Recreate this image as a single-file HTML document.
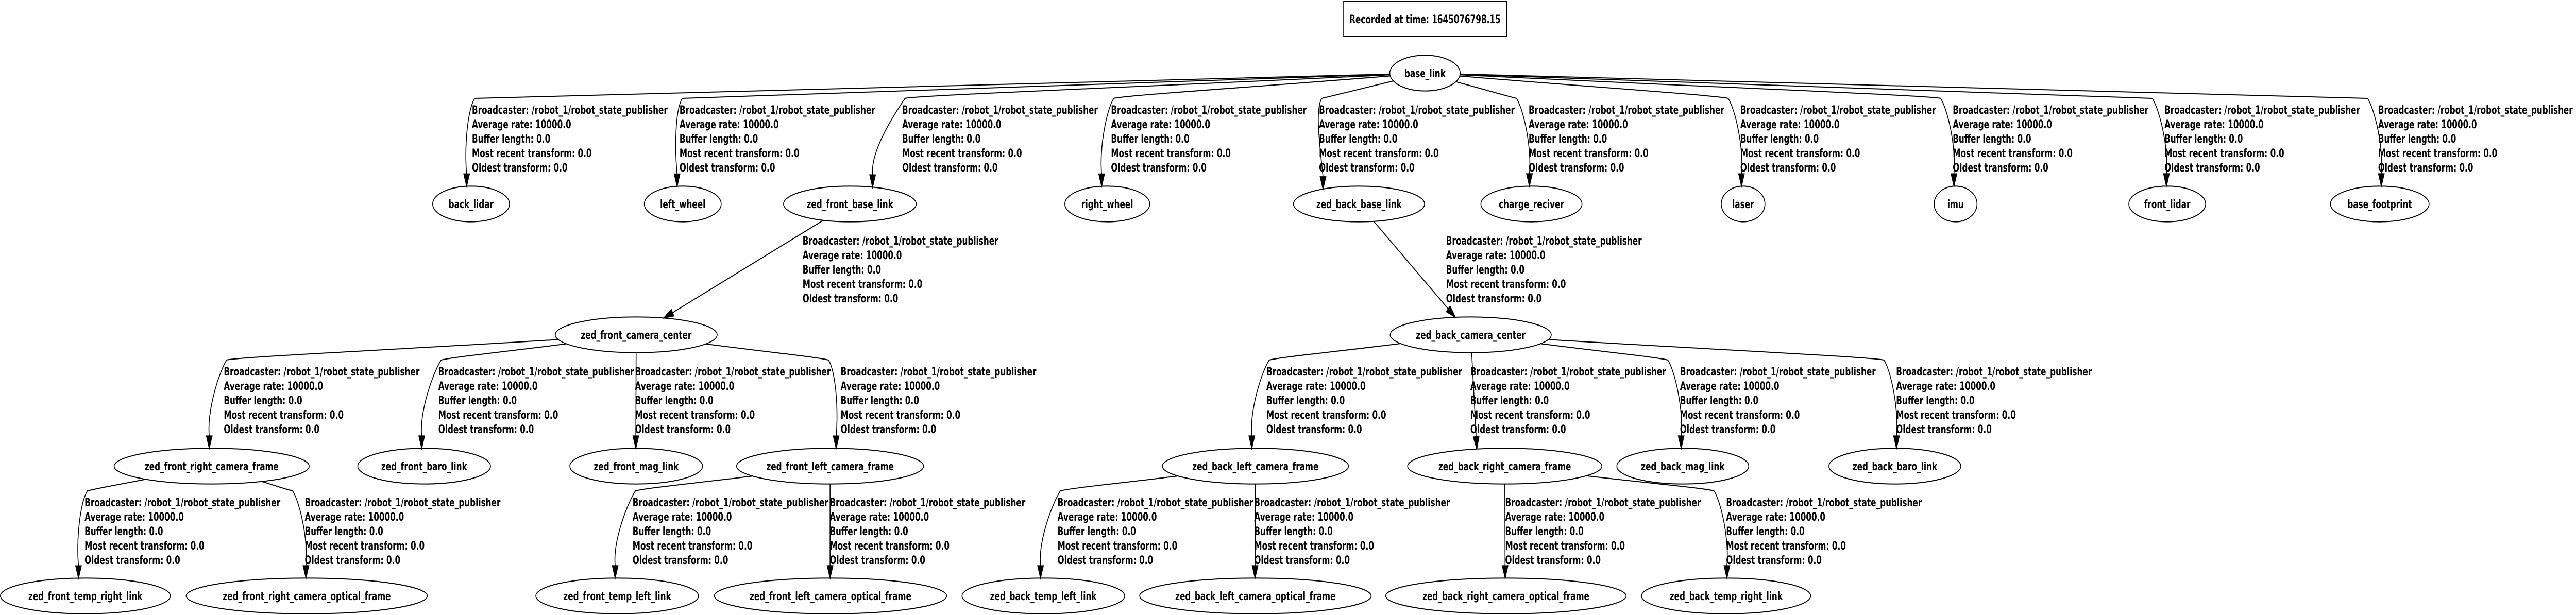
<!DOCTYPE html>
<html><head><meta charset="utf-8">
<style>
html,body{margin:0;padding:0;background:#fff;width:100%;height:100%;overflow:hidden;}
svg{display:block;width:100vw;height:100vh;}
text{font-family:"DejaVu Sans","Liberation Sans",sans-serif;font-weight:bold;font-size:22px;fill:#000;}
.n{text-anchor:middle;}
ellipse{fill:none;stroke:#000;stroke-width:2;}
</style></head>
<body>
<svg id="s" viewBox="0 0 6365 1194" preserveAspectRatio="none" overflow="hidden" xmlns="http://www.w3.org/2000/svg">
<rect x="0" y="0" width="6365" height="1194" fill="#fff"/>
<rect x="3320" y="2" width="403" height="69" fill="none" stroke="#000" stroke-width="2"/>
<text class="n" transform="translate(3521,45) scale(0.885,1)">Recorded at time: 1645076798.15</text>
<g id="edges" fill="none" stroke="#000" stroke-width="2"></g>
<g id="arrows" fill="#000" stroke="#000" stroke-width="2"></g>

<ellipse cx="3521" cy="142" rx="87" ry="34.6"/><text class="n" transform="translate(3521,150) scale(0.885,1)">base_link</text>
<ellipse cx="1164" cy="396" rx="95" ry="34.6"/><text class="n" transform="translate(1164,404) scale(0.885,1)">back_lidar</text>
<ellipse cx="1687" cy="396" rx="95" ry="34.6"/><text class="n" transform="translate(1687,404) scale(0.885,1)">left_wheel</text>
<ellipse cx="2100" cy="396" rx="164" ry="34.6"/><text class="n" transform="translate(2100,404) scale(0.885,1)">zed_front_base_link</text>
<ellipse cx="2736" cy="396" rx="105" ry="34.6"/><text class="n" transform="translate(2736,404) scale(0.885,1)">right_wheel</text>
<ellipse cx="3358" cy="396" rx="162" ry="34.6"/><text class="n" transform="translate(3358,404) scale(0.885,1)">zed_back_base_link</text>
<ellipse cx="3784" cy="396" rx="125" ry="34.6"/><text class="n" transform="translate(3784,404) scale(0.885,1)">charge_reciver</text>
<ellipse cx="4307" cy="396" rx="54" ry="34.6"/><text class="n" transform="translate(4307,404) scale(0.885,1)">laser</text>
<ellipse cx="4832" cy="396" rx="53" ry="34.6"/><text class="n" transform="translate(4832,404) scale(0.885,1)">imu</text>
<ellipse cx="5355" cy="396" rx="95" ry="34.6"/><text class="n" transform="translate(5355,404) scale(0.885,1)">front_lidar</text>
<ellipse cx="5880" cy="396" rx="122" ry="34.6"/><text class="n" transform="translate(5880,404) scale(0.885,1)">base_footprint</text>
<ellipse cx="1572" cy="650" rx="200" ry="34.6"/><text class="n" transform="translate(1572,658) scale(0.885,1)">zed_front_camera_center</text>
<ellipse cx="3634" cy="650" rx="199" ry="34.6"/><text class="n" transform="translate(3634,658) scale(0.885,1)">zed_back_camera_center</text>
<ellipse cx="523" cy="905" rx="241" ry="34.6"/><text class="n" transform="translate(523,913) scale(0.885,1)">zed_front_right_camera_frame</text>
<ellipse cx="1048" cy="905" rx="164" ry="34.6"/><text class="n" transform="translate(1048,913) scale(0.885,1)">zed_front_baro_link</text>
<ellipse cx="1572" cy="905" rx="164" ry="34.6"/><text class="n" transform="translate(1572,913) scale(0.885,1)">zed_front_mag_link</text>
<ellipse cx="2051" cy="905" rx="231" ry="34.6"/><text class="n" transform="translate(2051,913) scale(0.885,1)">zed_front_left_camera_frame</text>
<ellipse cx="3102" cy="905" rx="230" ry="34.6"/><text class="n" transform="translate(3102,913) scale(0.885,1)">zed_back_left_camera_frame</text>
<ellipse cx="3718" cy="905" rx="240" ry="34.6"/><text class="n" transform="translate(3718,913) scale(0.885,1)">zed_back_right_camera_frame</text>
<ellipse cx="4158" cy="905" rx="163" ry="34.6"/><text class="n" transform="translate(4158,913) scale(0.885,1)">zed_back_mag_link</text>
<ellipse cx="4682" cy="905" rx="163" ry="34.6"/><text class="n" transform="translate(4682,913) scale(0.885,1)">zed_back_baro_link</text>
<ellipse cx="211" cy="1157" rx="210" ry="34.6"/><text class="n" transform="translate(211,1165) scale(0.885,1)">zed_front_temp_right_link</text>
<ellipse cx="758" cy="1157" rx="298" ry="34.6"/><text class="n" transform="translate(758,1165) scale(0.885,1)">zed_front_right_camera_optical_frame</text>
<ellipse cx="1525" cy="1157" rx="201" ry="34.6"/><text class="n" transform="translate(1525,1165) scale(0.885,1)">zed_front_temp_left_link</text>
<ellipse cx="2052" cy="1157" rx="287" ry="34.6"/><text class="n" transform="translate(2052,1165) scale(0.885,1)">zed_front_left_camera_optical_frame</text>
<ellipse cx="2578" cy="1157" rx="201" ry="34.6"/><text class="n" transform="translate(2578,1165) scale(0.885,1)">zed_back_temp_left_link</text>
<ellipse cx="3102" cy="1157" rx="286" ry="34.6"/><text class="n" transform="translate(3102,1165) scale(0.885,1)">zed_back_left_camera_optical_frame</text>
<ellipse cx="3721" cy="1157" rx="297" ry="34.6"/><text class="n" transform="translate(3721,1165) scale(0.885,1)">zed_back_right_camera_optical_frame</text>
<ellipse cx="4265" cy="1157" rx="209" ry="34.6"/><text class="n" transform="translate(4265,1165) scale(0.885,1)">zed_back_temp_right_link</text>

<text transform="translate(1166,221) scale(0.885,1)"><tspan x="0" y="0">Broadcaster: /robot_1/robot_state_publisher</tspan><tspan x="0" y="28">Average rate: 10000.0</tspan><tspan x="0" y="56">Buffer length: 0.0</tspan><tspan x="0" y="84">Most recent transform: 0.0</tspan><tspan x="0" y="112">Oldest transform: 0.0</tspan></text>
<text transform="translate(1679,221) scale(0.885,1)"><tspan x="0" y="0">Broadcaster: /robot_1/robot_state_publisher</tspan><tspan x="0" y="28">Average rate: 10000.0</tspan><tspan x="0" y="56">Buffer length: 0.0</tspan><tspan x="0" y="84">Most recent transform: 0.0</tspan><tspan x="0" y="112">Oldest transform: 0.0</tspan></text>
<text transform="translate(2229,221) scale(0.885,1)"><tspan x="0" y="0">Broadcaster: /robot_1/robot_state_publisher</tspan><tspan x="0" y="28">Average rate: 10000.0</tspan><tspan x="0" y="56">Buffer length: 0.0</tspan><tspan x="0" y="84">Most recent transform: 0.0</tspan><tspan x="0" y="112">Oldest transform: 0.0</tspan></text>
<text transform="translate(2745,221) scale(0.885,1)"><tspan x="0" y="0">Broadcaster: /robot_1/robot_state_publisher</tspan><tspan x="0" y="28">Average rate: 10000.0</tspan><tspan x="0" y="56">Buffer length: 0.0</tspan><tspan x="0" y="84">Most recent transform: 0.0</tspan><tspan x="0" y="112">Oldest transform: 0.0</tspan></text>
<text transform="translate(3259,221) scale(0.885,1)"><tspan x="0" y="0">Broadcaster: /robot_1/robot_state_publisher</tspan><tspan x="0" y="28">Average rate: 10000.0</tspan><tspan x="0" y="56">Buffer length: 0.0</tspan><tspan x="0" y="84">Most recent transform: 0.0</tspan><tspan x="0" y="112">Oldest transform: 0.0</tspan></text>
<text transform="translate(3777,221) scale(0.885,1)"><tspan x="0" y="0">Broadcaster: /robot_1/robot_state_publisher</tspan><tspan x="0" y="28">Average rate: 10000.0</tspan><tspan x="0" y="56">Buffer length: 0.0</tspan><tspan x="0" y="84">Most recent transform: 0.0</tspan><tspan x="0" y="112">Oldest transform: 0.0</tspan></text>
<text transform="translate(4300,221) scale(0.885,1)"><tspan x="0" y="0">Broadcaster: /robot_1/robot_state_publisher</tspan><tspan x="0" y="28">Average rate: 10000.0</tspan><tspan x="0" y="56">Buffer length: 0.0</tspan><tspan x="0" y="84">Most recent transform: 0.0</tspan><tspan x="0" y="112">Oldest transform: 0.0</tspan></text>
<text transform="translate(4825,221) scale(0.885,1)"><tspan x="0" y="0">Broadcaster: /robot_1/robot_state_publisher</tspan><tspan x="0" y="28">Average rate: 10000.0</tspan><tspan x="0" y="56">Buffer length: 0.0</tspan><tspan x="0" y="84">Most recent transform: 0.0</tspan><tspan x="0" y="112">Oldest transform: 0.0</tspan></text>
<text transform="translate(5348,221) scale(0.885,1)"><tspan x="0" y="0">Broadcaster: /robot_1/robot_state_publisher</tspan><tspan x="0" y="28">Average rate: 10000.0</tspan><tspan x="0" y="56">Buffer length: 0.0</tspan><tspan x="0" y="84">Most recent transform: 0.0</tspan><tspan x="0" y="112">Oldest transform: 0.0</tspan></text>
<text transform="translate(5876,221) scale(0.88,1)"><tspan x="0" y="0">Broadcaster: /robot_1/robot_state_publisher</tspan><tspan x="0" y="28">Average rate: 10000.0</tspan><tspan x="0" y="56">Buffer length: 0.0</tspan><tspan x="0" y="84">Most recent transform: 0.0</tspan><tspan x="0" y="112">Oldest transform: 0.0</tspan></text>
<text transform="translate(1983,475) scale(0.885,1)"><tspan x="0" y="0">Broadcaster: /robot_1/robot_state_publisher</tspan><tspan x="0" y="28">Average rate: 10000.0</tspan><tspan x="0" y="56">Buffer length: 0.0</tspan><tspan x="0" y="84">Most recent transform: 0.0</tspan><tspan x="0" y="112">Oldest transform: 0.0</tspan></text>
<text transform="translate(3573,475) scale(0.885,1)"><tspan x="0" y="0">Broadcaster: /robot_1/robot_state_publisher</tspan><tspan x="0" y="28">Average rate: 10000.0</tspan><tspan x="0" y="56">Buffer length: 0.0</tspan><tspan x="0" y="84">Most recent transform: 0.0</tspan><tspan x="0" y="112">Oldest transform: 0.0</tspan></text>
<text transform="translate(553,729) scale(0.885,1)"><tspan x="0" y="0">Broadcaster: /robot_1/robot_state_publisher</tspan><tspan x="0" y="28">Average rate: 10000.0</tspan><tspan x="0" y="56">Buffer length: 0.0</tspan><tspan x="0" y="84">Most recent transform: 0.0</tspan><tspan x="0" y="112">Oldest transform: 0.0</tspan></text>
<text transform="translate(1083,729) scale(0.885,1)"><tspan x="0" y="0">Broadcaster: /robot_1/robot_state_publisher</tspan><tspan x="0" y="28">Average rate: 10000.0</tspan><tspan x="0" y="56">Buffer length: 0.0</tspan><tspan x="0" y="84">Most recent transform: 0.0</tspan><tspan x="0" y="112">Oldest transform: 0.0</tspan></text>
<text transform="translate(1569,729) scale(0.885,1)"><tspan x="0" y="0">Broadcaster: /robot_1/robot_state_publisher</tspan><tspan x="0" y="28">Average rate: 10000.0</tspan><tspan x="0" y="56">Buffer length: 0.0</tspan><tspan x="0" y="84">Most recent transform: 0.0</tspan><tspan x="0" y="112">Oldest transform: 0.0</tspan></text>
<text transform="translate(2077,729) scale(0.885,1)"><tspan x="0" y="0">Broadcaster: /robot_1/robot_state_publisher</tspan><tspan x="0" y="28">Average rate: 10000.0</tspan><tspan x="0" y="56">Buffer length: 0.0</tspan><tspan x="0" y="84">Most recent transform: 0.0</tspan><tspan x="0" y="112">Oldest transform: 0.0</tspan></text>
<text transform="translate(3129,729) scale(0.885,1)"><tspan x="0" y="0">Broadcaster: /robot_1/robot_state_publisher</tspan><tspan x="0" y="28">Average rate: 10000.0</tspan><tspan x="0" y="56">Buffer length: 0.0</tspan><tspan x="0" y="84">Most recent transform: 0.0</tspan><tspan x="0" y="112">Oldest transform: 0.0</tspan></text>
<text transform="translate(3633,729) scale(0.885,1)"><tspan x="0" y="0">Broadcaster: /robot_1/robot_state_publisher</tspan><tspan x="0" y="28">Average rate: 10000.0</tspan><tspan x="0" y="56">Buffer length: 0.0</tspan><tspan x="0" y="84">Most recent transform: 0.0</tspan><tspan x="0" y="112">Oldest transform: 0.0</tspan></text>
<text transform="translate(4151,729) scale(0.885,1)"><tspan x="0" y="0">Broadcaster: /robot_1/robot_state_publisher</tspan><tspan x="0" y="28">Average rate: 10000.0</tspan><tspan x="0" y="56">Buffer length: 0.0</tspan><tspan x="0" y="84">Most recent transform: 0.0</tspan><tspan x="0" y="112">Oldest transform: 0.0</tspan></text>
<text transform="translate(4685,729) scale(0.885,1)"><tspan x="0" y="0">Broadcaster: /robot_1/robot_state_publisher</tspan><tspan x="0" y="28">Average rate: 10000.0</tspan><tspan x="0" y="56">Buffer length: 0.0</tspan><tspan x="0" y="84">Most recent transform: 0.0</tspan><tspan x="0" y="112">Oldest transform: 0.0</tspan></text>
<text transform="translate(209,983) scale(0.885,1)"><tspan x="0" y="0">Broadcaster: /robot_1/robot_state_publisher</tspan><tspan x="0" y="28">Average rate: 10000.0</tspan><tspan x="0" y="56">Buffer length: 0.0</tspan><tspan x="0" y="84">Most recent transform: 0.0</tspan><tspan x="0" y="112">Oldest transform: 0.0</tspan></text>
<text transform="translate(753,983) scale(0.885,1)"><tspan x="0" y="0">Broadcaster: /robot_1/robot_state_publisher</tspan><tspan x="0" y="28">Average rate: 10000.0</tspan><tspan x="0" y="56">Buffer length: 0.0</tspan><tspan x="0" y="84">Most recent transform: 0.0</tspan><tspan x="0" y="112">Oldest transform: 0.0</tspan></text>
<text transform="translate(1563,983) scale(0.885,1)"><tspan x="0" y="0">Broadcaster: /robot_1/robot_state_publisher</tspan><tspan x="0" y="28">Average rate: 10000.0</tspan><tspan x="0" y="56">Buffer length: 0.0</tspan><tspan x="0" y="84">Most recent transform: 0.0</tspan><tspan x="0" y="112">Oldest transform: 0.0</tspan></text>
<text transform="translate(2050,983) scale(0.885,1)"><tspan x="0" y="0">Broadcaster: /robot_1/robot_state_publisher</tspan><tspan x="0" y="28">Average rate: 10000.0</tspan><tspan x="0" y="56">Buffer length: 0.0</tspan><tspan x="0" y="84">Most recent transform: 0.0</tspan><tspan x="0" y="112">Oldest transform: 0.0</tspan></text>
<text transform="translate(2613,983) scale(0.885,1)"><tspan x="0" y="0">Broadcaster: /robot_1/robot_state_publisher</tspan><tspan x="0" y="28">Average rate: 10000.0</tspan><tspan x="0" y="56">Buffer length: 0.0</tspan><tspan x="0" y="84">Most recent transform: 0.0</tspan><tspan x="0" y="112">Oldest transform: 0.0</tspan></text>
<text transform="translate(3099,983) scale(0.885,1)"><tspan x="0" y="0">Broadcaster: /robot_1/robot_state_publisher</tspan><tspan x="0" y="28">Average rate: 10000.0</tspan><tspan x="0" y="56">Buffer length: 0.0</tspan><tspan x="0" y="84">Most recent transform: 0.0</tspan><tspan x="0" y="112">Oldest transform: 0.0</tspan></text>
<text transform="translate(3719,983) scale(0.885,1)"><tspan x="0" y="0">Broadcaster: /robot_1/robot_state_publisher</tspan><tspan x="0" y="28">Average rate: 10000.0</tspan><tspan x="0" y="56">Buffer length: 0.0</tspan><tspan x="0" y="84">Most recent transform: 0.0</tspan><tspan x="0" y="112">Oldest transform: 0.0</tspan></text>
<text transform="translate(4265,983) scale(0.885,1)"><tspan x="0" y="0">Broadcaster: /robot_1/robot_state_publisher</tspan><tspan x="0" y="28">Average rate: 10000.0</tspan><tspan x="0" y="56">Buffer length: 0.0</tspan><tspan x="0" y="84">Most recent transform: 0.0</tspan><tspan x="0" y="112">Oldest transform: 0.0</tspan></text>
</svg>
<script>
(function(){
var RY=34.6;
var N={
base_link:[3521,142,87],back_lidar:[1164,396,95],left_wheel:[1687,396,95],zfb:[2100,396,164],right_wheel:[2736,396,105],
zbb:[3358,396,162],charge:[3784,396,125],laser:[4307,396,54],imu:[4832,396,53],front_lidar:[5355,396,95],footprint:[5880,396,122],
zfc:[1572,650,200],zbc:[3634,650,199],
zfrc:[523,905,241],zfbaro:[1048,905,164],zfmag:[1572,905,164],zflc:[2051,905,231],
zblc:[3102,905,230],zbrc:[3718,905,240],zbmag:[4158,905,163],zbbaro:[4682,905,163],
zftr:[211,1157,210],zfro:[758,1157,298],zftl:[1525,1157,201],zflo:[2052,1157,287],
zbtl:[2578,1157,201],zblo:[3102,1157,286],zbro:[3721,1157,297],zbtr:[4265,1157,209]};
var E=[
['base_link','back_lidar',1166,1153,221,0],['base_link','left_wheel',1679,1673,221,0],['base_link','zfb',2229,2156,221,0],
['base_link','right_wheel',2745,2722,221,0],['base_link','zbb',3259,3269,221,0],['base_link','charge',3777,3779,221,0],
['base_link','laser',4300,4303,221,0],['base_link','imu',4825,4828,221,0],['base_link','front_lidar',5348,5353,221,0],
['base_link','footprint',5880,5884,221,0],
['zfb','zfc',1983,1640,475,1],['zbb','zbc',3573,3596,475,1],
['zfc','zfrc',553,517,729,0],['zfc','zfbaro',1083,1042,729,0],['zfc','zfmag',1569,1571,729,1],['zfc','zflc',2077,2066,729,0],
['zbc','zblc',3129,3093,729,0],['zbc','zbrc',3633,3649,729,1],['zbc','zbmag',4151,4154,729,0],['zbc','zbbaro',4685,4686,729,0],
['zfrc','zftr',209,194,983,0],['zfrc','zfro',753,756,983,0],['zflc','zftl',1563,1520,983,0],['zflc','zflo',2050,2051,983,1],
['zblc','zbtl',2613,2571,983,0],['zblc','zblo',3099,3101,983,1],['zbrc','zbro',3719,3719,983,1],['zbrc','zbtr',4265,4267,983,0]];
function top(n,x){var c=N[n];var d=(x-c[0])/c[2];d=Math.max(-0.99,Math.min(0.99,d));return c[1]-RY*Math.sqrt(1-d*d);}
function bnd(n,px,py){var c=N[n];var a=Math.atan2((py-c[1])/RY,(px-c[0])/c[2]);return [c[0]+c[2]*Math.cos(a),c[1]+RY*Math.sin(a)];}
var ns='http://www.w3.org/2000/svg';
var eg=document.getElementById('edges'),ag=document.getElementById('arrows');
function f(v){return v.toFixed(1);}
E.forEach(function(e){
  var p=e[0],c=e[1],Lx=e[2],Tx=e[3],Ly=e[4],st=e[5];
  var T=[Tx,top(c,Tx)];var d,u;
  if(st){
    var S=bnd(p,T[0],T[1]);
    var dx=T[0]-S[0],dy=T[1]-S[1],l=Math.sqrt(dx*dx+dy*dy);u=[dx/l,dy/l];
    var En=[T[0]-24*u[0],T[1]-24*u[1]];
    d='M'+f(S[0])+','+f(S[1])+' L'+f(En[0])+','+f(En[1]);
  } else {
    var pc=N[p];
    var dir=(Tx<pc[0])?-1:1;
    var Kx=dir<0?Lx+7:Lx-30, Ky=Ly-30;
    var S=bnd(p,Kx,Ky);
    var En=[T[0],T[1]-24];
    var c1=[S[0]+(Kx-S[0])*0.5,S[1]+(Ky-S[1])*0.5];
    var c2=[Kx-dir*30,Ky-6];
    var c3=[Kx+dir*18,Ky+22];
    var C2=[T[0]+dir*6,En[1]-50];
    d='M'+f(S[0])+','+f(S[1])+' C'+f(c1[0])+','+f(c1[1])+' '+f(c2[0])+','+f(c2[1])+' '+f(Kx)+','+f(Ky)+
      ' C'+f(c3[0])+','+f(c3[1])+' '+f(C2[0])+','+f(C2[1])+' '+f(En[0])+','+f(En[1]);
    u=[0,1];
  }
  var pa=document.createElementNS(ns,'path');pa.setAttribute('d',d);eg.appendChild(pa);
  var B=[T[0]-24*u[0],T[1]-24*u[1]],pr=[-u[1],u[0]];
  var pg=document.createElementNS(ns,'polygon');
  pg.setAttribute('points',f(T[0])+','+f(T[1])+' '+f(B[0]+7*pr[0])+','+f(B[1]+7*pr[1])+' '+f(B[0]-7*pr[0])+','+f(B[1]-7*pr[1]));
  ag.appendChild(pg);
});
})();
</script>
</body></html>
